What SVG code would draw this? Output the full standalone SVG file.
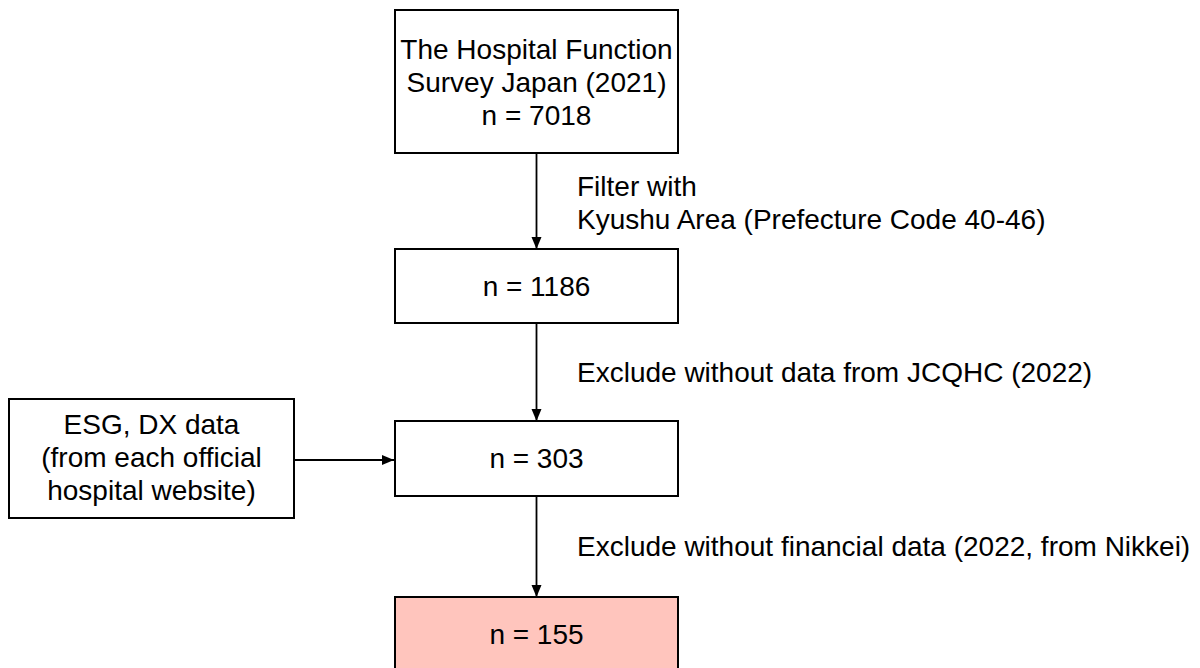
<svg xmlns="http://www.w3.org/2000/svg" width="1200" height="668" viewBox="0 0 1200 668">
<style>
.box{fill:#ffffff;stroke:#000000;stroke-width:2}
.final{fill:#ffc5bd;stroke:#000000;stroke-width:2}
.t{font-family:"Liberation Sans",Arial,sans-serif;font-size:28px;fill:#000000}
.c{text-anchor:middle}
.edge{stroke:#000000;stroke-width:1.8;fill:none;marker-end:url(#ah)}
</style>
<defs>
<marker id="ah" markerUnits="userSpaceOnUse" markerWidth="12" markerHeight="12" viewBox="0 0 12 10" refX="12" refY="5" orient="auto">
<path d="M0,0 L12,5 L0,10 z" fill="#000000"/>
</marker>
</defs>
<rect width="1200" height="668" fill="#ffffff"/>
<g id="connectors">
<line class="edge" x1="536.5" y1="153" x2="536.5" y2="249"/>
<line class="edge" x1="536.5" y1="323" x2="536.5" y2="421"/>
<line class="edge" x1="536.5" y1="496" x2="536.5" y2="597"/>
<line class="edge" x1="295" y1="460" x2="394" y2="460"/>
</g>
<g id="labels">
<text class="t" x="577" y="196">Filter with</text>
<text class="t" x="577" y="229">Kyushu Area (Prefecture Code 40-46)</text>
<text class="t" x="577" y="382">Exclude without data from JCQHC (2022)</text>
<text class="t" x="577" y="556">Exclude without financial data (2022, from Nikkei)</text>
</g>
<g id="survey">
<rect class="box" x="395" y="10" width="283" height="143"/>
<text class="t c" x="536.5" y="59">The Hospital Function</text>
<text class="t c" x="536.5" y="92">Survey Japan (2021)</text>
<text class="t c" x="536.5" y="125">n = 7018</text>
</g>
<g id="kyushu">
<rect class="box" x="395" y="249" width="283" height="74"/>
<text class="t c" x="536.5" y="296">n = 1186</text>
</g>
<g id="jcqhc">
<rect class="box" x="395" y="421" width="283" height="75"/>
<text class="t c" x="536.5" y="468">n = 303</text>
</g>
<g id="esgdx">
<rect class="box" x="9" y="399" width="285" height="119"/>
<text class="t c" x="151.5" y="434">ESG, DX data</text>
<text class="t c" x="151.5" y="467">(from each official</text>
<text class="t c" x="151.5" y="500">hospital website)</text>
</g>
<g id="final">
<rect class="final" x="395" y="597" width="283" height="75"/>
<text class="t c" x="536.5" y="644">n = 155</text>
</g>
</svg>
